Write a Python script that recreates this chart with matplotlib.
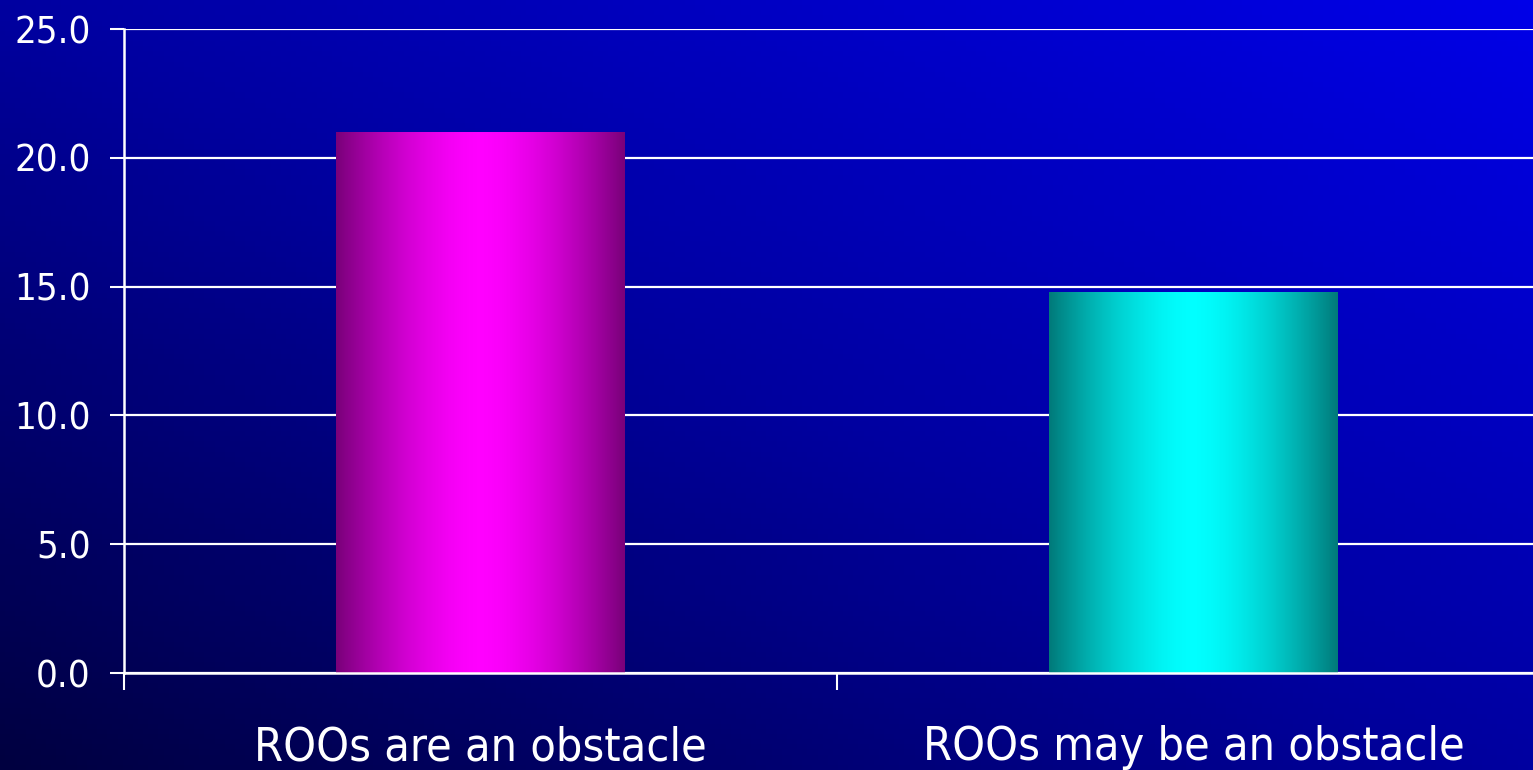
import numpy as np
import matplotlib.pyplot as plt
from matplotlib.colors import LinearSegmentedColormap

categories = ["ROOs are an obstacle", "ROOs may be an obstacle"]
values = [21.0, 14.8]
edge_colors = ["#7a007a", "#007a7a"]
mid_colors = ["#ff00ff", "#00ffff"]

fig = plt.figure(figsize=(15.33, 7.70), dpi=100)

# background gradient: dark navy bottom-left -> bright blue top-right
bg = fig.add_axes([0, 0, 1, 1], zorder=0)
gx, gy = np.meshgrid(np.linspace(0, 1, 300), np.linspace(0, 1, 150))
t = np.clip(0.5 * gx + 0.5 * gy, 0, 1)
bg_cmap = LinearSegmentedColormap.from_list("bg", ["#000040", "#0000a0", "#0000e8"])
bg.imshow(t, cmap=bg_cmap, origin="lower", aspect="auto", extent=[0, 1, 0, 1])
bg.axis("off")

ax = fig.add_axes([124 / 1533, 1 - 673 / 770, 1 - 124 / 1533, (673 - 29) / 770], zorder=1)
ax.patch.set_alpha(0)

x = np.arange(len(categories))
width = 0.404
bars = ax.bar(x, values, width=width, color="none", zorder=2)

# horizontal shading on each bar: dark edges, bright centre
ramp = 1 - np.abs(np.linspace(-1, 1, 256)) ** 1.6
for b, c0, c1 in zip(bars, edge_colors, mid_colors):
    cm = LinearSegmentedColormap.from_list("b", [c0, c1])
    x0, w, h = b.get_x(), b.get_width(), b.get_height()
    im = ax.imshow(ramp[np.newaxis, :], cmap=cm, aspect="auto",
                   extent=[x0, x0 + w, 0, h], zorder=2)
    im.set_clip_path(b)

ax.set_xlim(-0.5, -0.5 + (1533 - 124) / 713)
ax.set_ylim(0, 25)
ax.set_yticks(np.arange(0, 26, 5))
ax.set_yticklabels([f"{v:.1f}" for v in np.arange(0, 26, 5)],
                   fontsize=27.5, fontstretch="condensed")
ax.yaxis.grid(True, color="white", linewidth=1.6, zorder=1)
ax.set_axisbelow(True)

ax.set_xticks([-0.5, 0.5])
ax.set_xticklabels([])
for i, lab in enumerate(categories):
    ax.text(i, -3.38, lab, ha="center", va="baseline", color="white",
            fontsize=33.5, fontstretch="condensed", clip_on=False)

for s in ["top", "right"]:
    ax.spines[s].set_visible(False)
for s in ["left", "bottom"]:
    ax.spines[s].set_color("white")
    ax.spines[s].set_linewidth(1.8)
ax.tick_params(axis="both", colors="white", length=10, width=1.5)
ax.tick_params(axis="y", pad=14)
ax.tick_params(axis="x", length=12)

fig.savefig("out.png", dpi=100)
